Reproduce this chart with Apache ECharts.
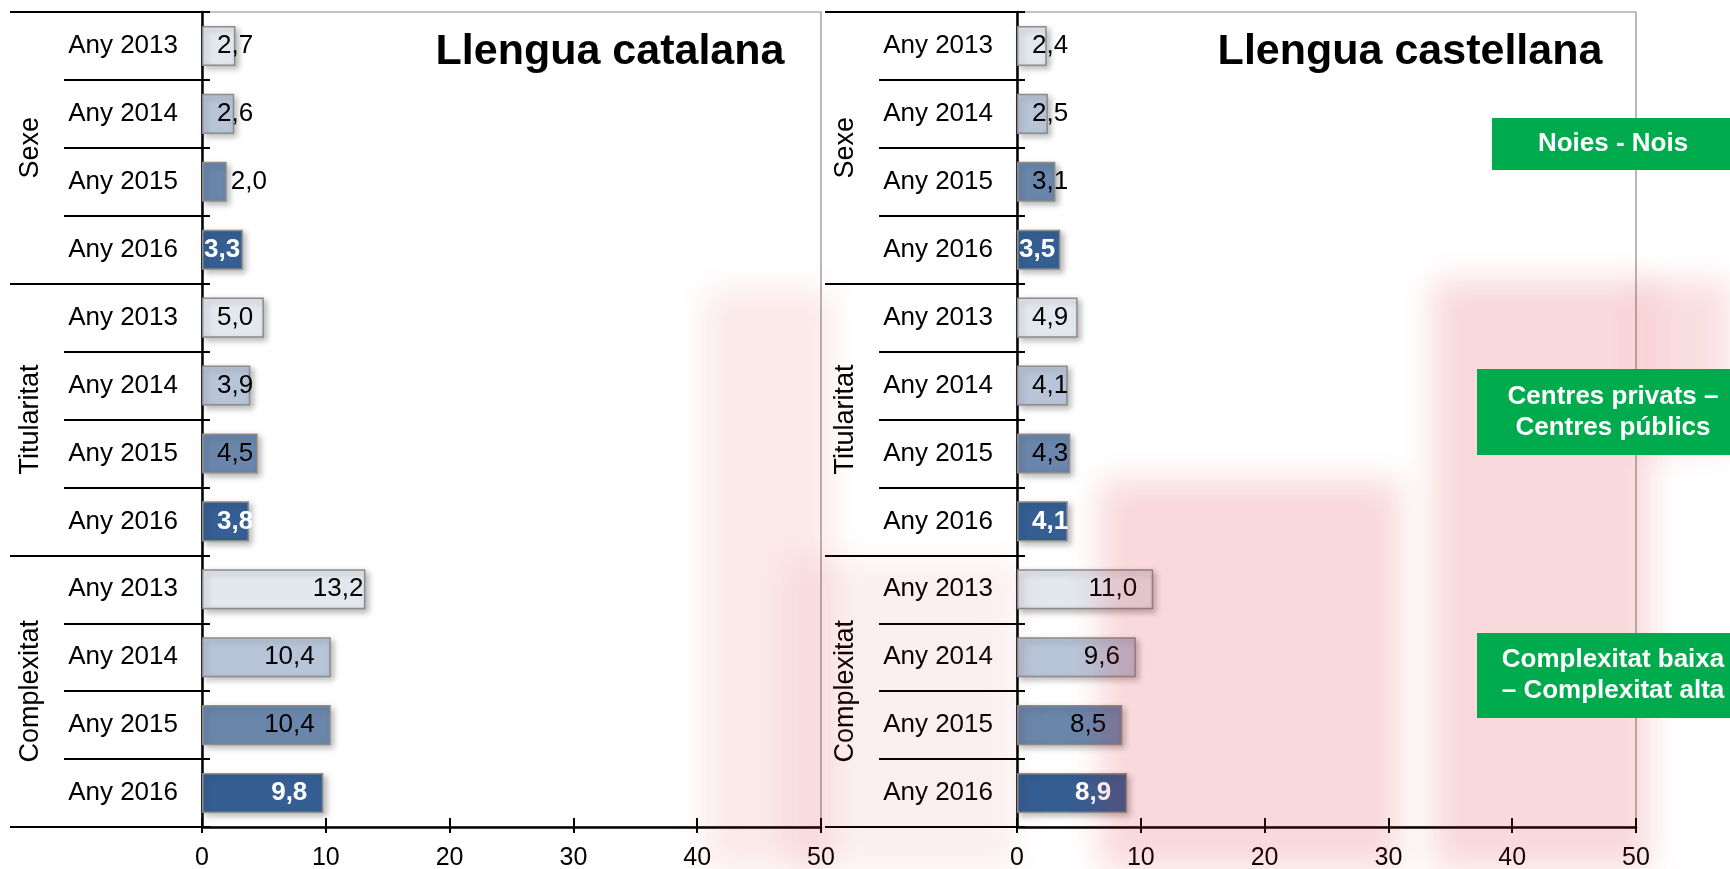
<!DOCTYPE html>
<html>
<head>
<meta charset="utf-8">
<script src="https://cdn.jsdelivr.net/npm/echarts@6/dist/echarts.min.js"></script>
<style>
  html, body { margin: 0; padding: 0; background: #fff; }
  #chart { width: 1730px; height: 869px; }
</style>
</head>
<body>
<div id="chart"></div>
<script>
// dades
var groups = ['Sexe', 'Titularitat', 'Complexitat'];
var years = ['Any 2013', 'Any 2014', 'Any 2015', 'Any 2016'];
var catValues = [2.7, 2.6, 2.0, 3.3, 5.0, 3.9, 4.5, 3.8, 13.2, 10.4, 10.4, 9.8];
var casValues = [2.4, 2.5, 3.1, 3.5, 4.9, 4.1, 4.3, 4.1, 11.0, 9.6, 8.5, 8.9];
var titles = ['Llengua catalana', 'Llengua castellana'];
var boxTexts = ['Noies - Nois', 'Centres privats –\nCentres públics', 'Complexitat baixa\n– Complexitat alta'];
var xMin = 0, xMax = 50, xStep = 10;

var FONT = 'Liberation Sans, Arial, sans-serif';
var yearColors = ['#e3e7ee', '#b8c5d8', '#6a86ab', '#355f93'];

var categories = [];
groups.forEach(function() {
    years.forEach(function(y) { categories.push(y); });
});

function fmt(v) {
    return v.toFixed(1).replace('.', ',');
}

function barData(values) {
    return values.map(function(v, i) {
        var yi = i % 4;
        var pos, dist;
        if (v >= 8) { pos = 'insideRight'; dist = v >= 12 ? 2 : 16; }
        else if (v <= 2.2) { pos = 'right'; dist = 4; }
        else { pos = 'insideLeft'; dist = (yi === 3 && v < 3.6) ? 2 : 15; }
        return {
            value: v,
            itemStyle: { color: yearColors[yi] },
            label: {
                position: pos,
                distance: dist,
                color: yi === 3 ? '#fff' : '#000',
                fontWeight: yi === 3 ? 'bold' : 'normal'
            }
        };
    });
}

var grids = [
    { left: 202, top: 12, width: 619, height: 815 },
    { left: 1017, top: 12, width: 619, height: 815 }
];

var option = {
    backgroundColor: '#fff',
    animation: false,
    title: [],
    grid: [],
    xAxis: [],
    yAxis: [],
    series: [],
    graphic: []
};

grids.forEach(function(g, gi) {
    option.grid.push({
        left: g.left, top: g.top, width: g.width, height: g.height,
        outerBoundsMode: 'none', containLabel: false,
        show: true, borderColor: '#8a8a8a', borderWidth: 1.2, backgroundColor: 'transparent'
    });
    option.title.push({
        text: titles[gi],
        left: g.left + (gi === 0 ? 403 : 388),
        top: 26,
        textAlign: 'center',
        textStyle: { fontFamily: FONT, fontSize: 43, fontWeight: 'bold', color: '#000' }
    });
    // eix de valors
    option.xAxis.push({
        type: 'value', gridIndex: gi, position: 'bottom', min: xMin, max: xMax, interval: xStep,
        axisLine: { show: true, onZero: false, lineStyle: { color: '#000', width: 2.5 } },
        axisTick: { show: true, inside: true, length: 9, lineStyle: { color: '#000', width: 2 } },
        axisLabel: { margin: 19, fontFamily: FONT, fontSize: 25, color: '#000' },
        splitLine: { show: false }
    });
    option.xAxis.push({
        type: 'value', gridIndex: gi, position: 'bottom', min: xMin, max: xMax, interval: xStep,
        axisLine: { show: false, onZero: false },
        axisTick: { show: true, inside: false, length: 6, lineStyle: { color: '#000', width: 2 } },
        axisLabel: { show: false },
        splitLine: { show: false }
    });
    // eix de categories (anys)
    option.yAxis.push({
        type: 'category', gridIndex: gi, position: 'left', inverse: true, data: categories,
        axisLine: { show: true, onZero: false, lineStyle: { color: '#000', width: 2.5 } },
        axisTick: { show: true, length: 138, lineStyle: { color: '#000', width: 2 } },
        axisLabel: { margin: 24, fontFamily: FONT, fontSize: 26, color: '#000' }
    });
    // eix de grups
    option.yAxis.push({
        type: 'category', gridIndex: gi, position: 'left', inverse: true, data: groups,
        axisLine: { show: false, onZero: false },
        axisTick: { show: true, length: 192, lineStyle: { color: '#000', width: 2 } },
        axisLabel: { margin: 158, rotate: 90, fontFamily: FONT, fontSize: 27, color: '#000' }
    });
    // petites marques cap a dins
    option.yAxis.push({
        type: 'category', gridIndex: gi, position: 'left', inverse: true, data: categories,
        axisLine: { show: false, onZero: false },
        axisTick: { show: true, inside: true, length: 8, lineStyle: { color: '#000', width: 2 } },
        axisLabel: { show: false }
    });
    option.series.push({
        type: 'bar',
        xAxisIndex: gi * 2,
        yAxisIndex: gi * 3,
        barCategoryGap: '41%',
        data: barData(gi === 0 ? catValues : casValues),
        itemStyle: {
            borderColor: '#8c8c8c', borderWidth: 1.5,
            shadowBlur: 6, shadowOffsetX: 3, shadowOffsetY: 3, shadowColor: 'rgba(0,0,0,0.28)'
        },
        label: {
            show: true,
            fontFamily: FONT, fontSize: 26,
            formatter: function(p) { return fmt(p.value); }
        },
        z: 3
    });
});

// marca d'aigua rosada (ombra difuminada d'un rectangle fora de pantalla)
var OFF = 3000;
[
    [706, 290, 125, 579, 0.10],
    [790, 560, 227, 309, 0.07],
    [1100, 480, 300, 389, 0.17],
    [1433, 280, 217, 589, 0.17],
    [1640, 280, 90, 170, 0.14]
].forEach(function(r) {
    option.graphic.push({
        type: 'rect', silent: true, z: 60,
        shape: { x: r[0] - OFF, y: r[1], width: r[2], height: r[3] },
        style: {
            fill: '#000',
            shadowBlur: 30,
            shadowOffsetX: OFF,
            shadowColor: 'rgba(218,30,40,' + r[4] + ')'
        }
    });
});

// caixes verdes
var boxes = [
    { x: 1492, y: 118, w: 238, h: 52 },
    { x: 1477, y: 369, w: 253, h: 86 },
    { x: 1477, y: 633, w: 253, h: 85 }
];
boxes.forEach(function(b, i) {
    option.graphic.push({
        type: 'rect', z: 80,
        shape: { x: b.x, y: b.y, width: b.w, height: b.h },
        style: { fill: '#00ab4e' }
    });
    option.graphic.push({
        type: 'text', z: 81,
        style: {
            x: 1613, y: b.y + b.h / 2,
            text: boxTexts[i],
            align: 'center', verticalAlign: 'middle',
            fill: '#fff', fontFamily: FONT, fontSize: 26, fontWeight: 'bold', lineHeight: 31
        }
    });
});

var myChart = echarts.init(document.getElementById('chart'));
myChart.setOption(option);
</script>
</body>
</html>
